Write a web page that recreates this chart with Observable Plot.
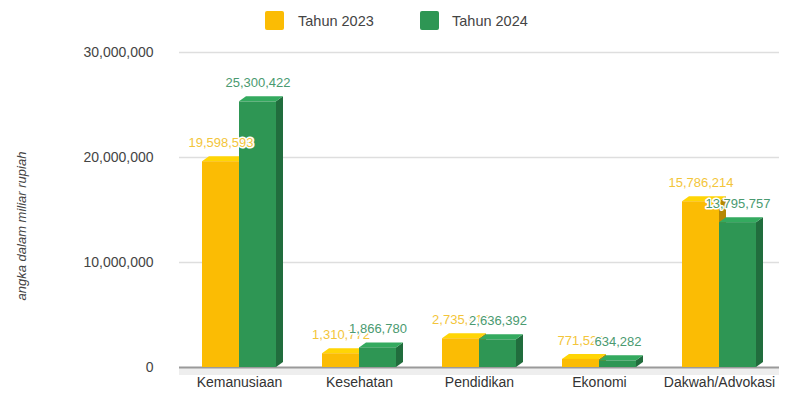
<!DOCTYPE html>
<html>
<head>
<meta charset="utf-8">
<script src="https://cdn.jsdelivr.net/npm/d3@7"></script>
<script src="https://cdn.jsdelivr.net/npm/@observablehq/plot@0.6"></script>
<style>
  html, body { margin: 0; padding: 0; background: #fff; }
  #wrap { position: relative; width: 797px; height: 409px; font-family: "Liberation Sans", Arial, sans-serif; }
  #legend { position: relative; height: 40px; }
  .sw { position: absolute; top: 11px; width: 19px; height: 19px; border-radius: 2px; }
  .lt { position: absolute; top: 12px; font-size: 14.5px; color: #444; line-height: 18px; }
  #ylab { position: absolute; left: 21px; top: 226px; transform: translate(-50%, -50%) rotate(-90deg);
          font-style: italic; font-size: 13px; color: #444; white-space: nowrap; }
</style>
</head>
<body>
<div id="wrap">
  <div id="legend"></div>
  <div id="chart"></div>
  <div id="ylab"></div>
</div>
<script>
const categories = ["Kemanusiaan", "Kesehatan", "Pendidikan", "Ekonomi", "Dakwah/Advokasi"];
const years = ["Tahun 2023", "Tahun 2024"];
const values2023 = [19598593, 1310772, 2735913, 771520, 15786214];
const values2024 = [25300422, 1866780, 2636392, 634282, 13795757];
const yTicks = [0, 10000000, 20000000, 30000000];
const barColors = ["#fbbc04", "#2e9654"];
const labelColors = ["#f3c53a", "#4a9a70"];
const yTitle = "angka dalam miliar rupiah";

const rows = [];
categories.forEach((c, i) => {
  rows.push({category: c, year: years[0], value: values2023[i]});
  rows.push({category: c, year: years[1], value: values2024[i]});
});
const fmt = d3.format(",");
const colorOf = y => barColors[years.indexOf(y)];
const labelOf = y => labelColors[years.indexOf(y)];

// legend
const legend = document.getElementById("legend");
[[265, 298], [420, 452]].forEach(([sx, tx], i) => {
  const s = document.createElement("div");
  s.className = "sw"; s.style.left = sx + "px"; s.style.background = barColors[i];
  const t = document.createElement("div");
  t.className = "lt"; t.style.left = tx + "px"; t.textContent = years[i];
  legend.append(s, t);
});
document.getElementById("ylab").textContent = yTitle;

const chart = Plot.plot({
  width: 797,
  height: 369,
  marginTop: 12,
  marginBottom: 42,
  marginLeft: 178,
  marginRight: 17,
  facet: {data: rows, x: "category", marginBottom: 42},
  fx: {domain: categories, padding: 0, label: null, tickSize: 0, tickPadding: 10, axis: "bottom"},
  x: {domain: years, axis: null, paddingInner: 0, paddingOuter: 0.58},
  y: {domain: [0, 30000000], ticks: yTicks, tickFormat: d3.format(","), tickSize: 0, tickPadding: 26, label: null},
  style: {fontFamily: "Liberation Sans, Arial, sans-serif", fontSize: "14px", color: "#444", background: "white"},
  marks: [
    Plot.ruleY(yTicks.slice(1), {stroke: "#dedede", strokeWidth: 1.5}),
    Plot.ruleY([0], {stroke: "#eeeeee", strokeWidth: 7, dy: 4}),
    Plot.ruleY([0], {stroke: "#9a9a9a", strokeWidth: 2}),
    Plot.barY(rows, {x: "year", y: "value", fill: d => colorOf(d.year)}),
    Plot.text(rows, {x: "year", y: "value", text: d => fmt(d.value), fill: d => labelOf(d.year),
      dy: -19, stroke: "white", strokeWidth: 3, fontSize: 13})
  ]
});
document.getElementById("chart").append(chart);

// 3D faces derived from the rendered bars
const dxD = 7, dyD = 5;
chart.querySelectorAll('g[aria-label="bar"] rect').forEach(r => {
  const x = +r.getAttribute("x"), y = +r.getAttribute("y");
  const w = +r.getAttribute("width"), h = +r.getAttribute("height");
  const f = r.getAttribute("fill");
  const p = r.parentNode;
  const mk = (pts, col) => {
    const poly = document.createElementNS("http://www.w3.org/2000/svg", "polygon");
    poly.setAttribute("points", pts.map(q => q.join(",")).join(" "));
    poly.setAttribute("fill", col);
    p.insertBefore(poly, r);
  };
  mk([[x + w, y], [x + w + dxD, y - dyD], [x + w + dxD, y + h - dyD], [x + w, y + h]], d3.color(f).darker(0.9).formatHex());
  mk([[x, y], [x + dxD, y - dyD], [x + w + dxD, y - dyD], [x + w, y]], d3.color(f).brighter(0.35).formatHex());
});
chart.querySelectorAll('g[aria-label="fx-axis tick label"] text, g[aria-label="fx-axis"] text').forEach(t => t.setAttribute("fill", "#333"));
</script>
</body>
</html>
